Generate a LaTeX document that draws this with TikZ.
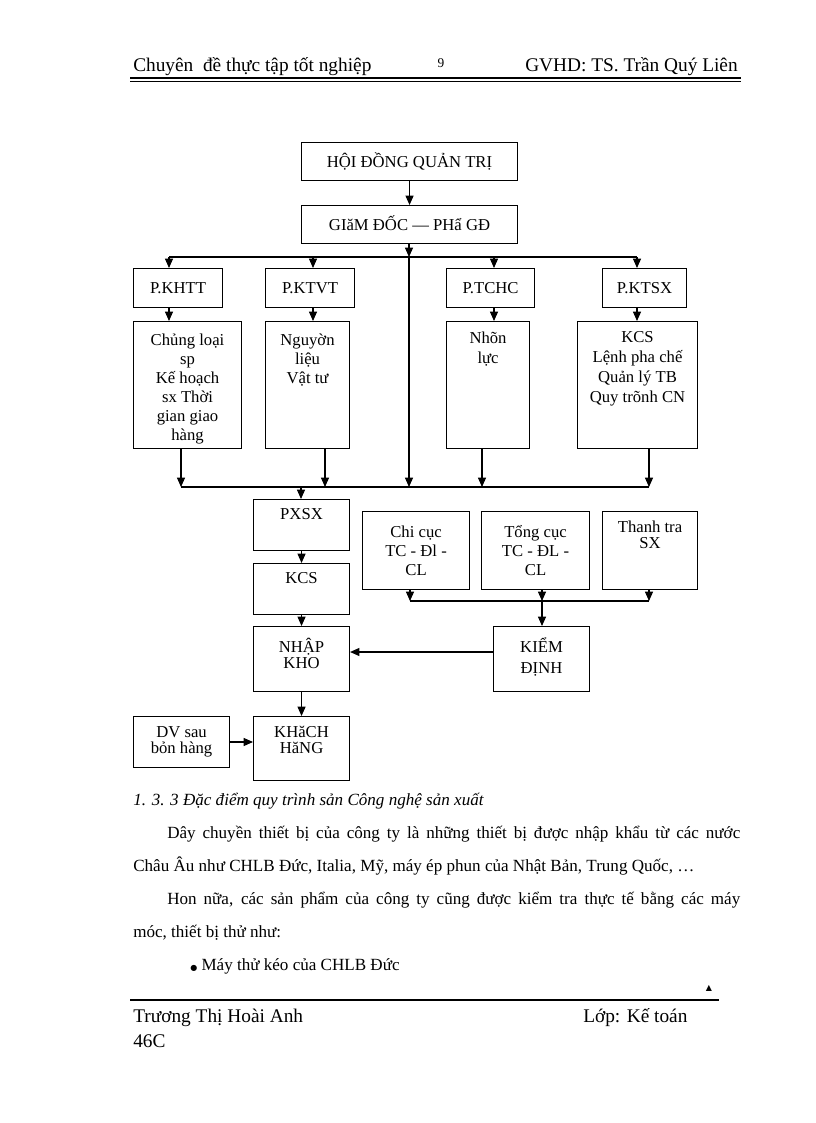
\documentclass[tikz,border=0pt]{standalone}
\usepackage{fontspec}
\setmainfont{Liberation Serif}
\newfontfamily\symfont{DejaVu Sans}
\usetikzlibrary{arrows.meta}
\newdimen\pxu \pxu=0.75pt
\newcommand\obox[8]{\node[bx, anchor=north west] (#1) at (#2,#3) {\parbox[c][\dimexpr #5\pxu-#3\pxu\relax][t]{\dimexpr #4\pxu-#2\pxu\relax}{\centering\baselineskip=#7\pxu\lineskiplimit=-20pt\rule{0pt}{#6\pxu}#8\par}};}
\begin{document}
\begin{tikzpicture}[x=0.75pt,y=-0.75pt,
  bx/.style={draw, line width=0.8pt, inner sep=0pt, font=\fontsize{12.5}{14}\selectfont},
  ln/.style={line width=0.8pt},
  arr/.style={line width=0.8pt, -{Triangle[length=7pt,width=6pt]}},
  txt/.style={inner sep=0pt, anchor=base west, font=\fontsize{12.8}{16}\selectfont},
  hdr/.style={inner sep=0pt, font=\fontsize{14.5}{17}\selectfont}]
\useasboundingbox[fill=white] (0,0) rectangle (816,1123);
% header
\node[hdr, anchor=base west] (h1) at (133,72) {Chuyên\ \ đề thực tập tốt nghiệp};
\node[hdr, anchor=base, font=\fontsize{10}{12}\selectfont] (h2) at (441,68) {9};
\node[hdr, anchor=base east] (h3) at (738,72) {GVHD: TS. Trần Quý Liên};
\draw[line width=1.3pt] (130,78) -- (741,78);
\draw[line width=0.6pt] (130,81) -- (741,81);
% boxes
\obox{hdqt}{301}{142}{517}{180}{25}{15}{HỘI ĐỒNG QUẢN TRỊ}
\obox{gd}{301}{205}{517}{243}{25}{15}{GIăM ĐỐC — PHẩ GĐ}
\obox{pkhtt}{133}{268}{222}{307}{25}{15}{P.KHTT}
\obox{pktvt}{265}{268}{354}{307}{25}{15}{P.KTVT}
\obox{ptchc}{446}{268}{534}{307}{25}{15}{P.TCHC}
\obox{pktsx}{602}{268}{686}{307}{25}{15}{P.KTSX}
\obox{c1}{133}{321}{241}{448}{24}{19}{Chủng loại\\sp\\Kế hoạch\\sx Thời\\gian giao\\hàng}
\obox{c2}{265}{321}{349}{448}{24}{19}{Nguyờn\\liệu\\Vật tư}
\obox{c3}{446}{321}{529}{448}{22}{20}{Nhõn\\lực}
\obox{c4}{577}{321}{697}{448}{21}{20}{KCS\\Lệnh pha chế\\Quản lý TB\\Quy trõnh CN}
\obox{pxsx}{253}{499}{349}{550}{20}{16}{PXSX}
\obox{kcs}{253}{563}{349}{614}{20}{16}{KCS}
\obox{nk}{253}{626}{349}{691}{26}{16}{NHẬP\\KHO}
\obox{kh}{253}{716}{349}{780}{21}{16}{KHăCH\\HăNG}
\obox{dv}{133}{716}{229}{767}{21}{16}{DV sau\\bỏn hàng}
\obox{cc}{362}{511}{469}{589}{26}{19}{Chi cục\\TC - Đl -\\CL}
\obox{tc}{481}{511}{589}{589}{26}{19}{Tổng cục\\TC - ĐL -\\CL}
\obox{tt}{602}{511}{697}{589}{21}{16}{Thanh tra\\SX}
\obox{kd}{493}{626}{589}{691}{26}{21}{KIỂM\\ĐỊNH}
% top bus
\coordinate (t1) at (169,257);
\coordinate (t2) at (313,257);
\coordinate (tC) at (409,257);
\coordinate (t3) at (494,257);
\coordinate (t4) at (637,257);
\draw[arr] (hdqt) -- (gd);
\draw[ln] (t1) -- (t4);
\draw[arr] (gd.south -| tC) -- (tC);
\draw[arr] (t1) -- (t1 |- pkhtt.north);
\draw[arr] (t2) -- (t2 |- pktvt.north);
\draw[arr] (t3) -- (t3 |- ptchc.north);
\draw[arr] (t4) -- (t4 |- pktsx.north);
\draw[arr] (pkhtt.south -| t1) -- (c1.north -| t1);
\draw[arr] (pktvt.south -| t2) -- (c2.north -| t2);
\draw[arr] (ptchc.south -| t3) -- (c3.north -| t3);
\draw[arr] (pktsx.south -| t4) -- (c4.north -| t4);
% bottom bus
\coordinate (b1) at (181,487);
\coordinate (b2) at (325,487);
\coordinate (bC) at (409,487);
\coordinate (b3) at (482,487);
\coordinate (b4) at (649,487);
\coordinate (bP) at (301,487);
\draw[ln] (b1) -- (b4);
\draw[arr] (c1.south -| b1) -- (b1);
\draw[arr] (c2.south -| b2) -- (b2);
\draw[arr] (tC) -- (bC);
\draw[arr] (c3.south -| b3) -- (b3);
\draw[arr] (c4.south -| b4) -- (b4);
\draw[arr] (bP) -- (pxsx.north -| bP);
\draw[arr] (pxsx) -- (kcs);
\draw[arr] (kcs) -- (nk);
\draw[arr] (nk) -- (kh);
% right group
\coordinate (r1) at (410,601);
\coordinate (r2) at (542,601);
\coordinate (r3) at (649,601);
\draw[ln] (r1) -- (r3);
\draw[arr] (cc.south -| r1) -- (r1);
\draw[arr] (tc.south -| r2) -- (r2);
\draw[arr] (tt.south -| r3) -- (r3);
\draw[arr] (r2) -- (kd.north -| r2);
\coordinate (ky) at (0,652);
\draw[arr] (kd.west |- ky) -- (nk.east |- ky);
\coordinate (dy) at (0,742);
\draw[arr] (dv.east |- dy) -- (kh.west |- dy);
% text
\node[txt, font=\fontsize{12.8}{15}\selectfont\itshape] (t0) at (133,805) {1. 3. 3 Đặc điểm quy trình sản Công nghệ sản xuất};
\node[txt] (p1) at (167,838) {\makebox[573\pxu][s]{Dây chuyền thiết bị của công ty là những thiết bị được nhập khẩu từ các nước}};
\node[txt] (p2) at (133,871) {Châu Âu như CHLB Đức, Italia, Mỹ, máy ép phun của Nhật Bản, Trung Quốc, …};
\node[txt] (p3) at (167,904) {\makebox[573\pxu][s]{Hon nữa, các sản phẩm của công ty cũng được kiểm tra thực tế bằng các máy}};
\node[txt] (p4) at (133,937) {móc, thiết bị thử như:};
\node[txt] (p5) at (190,970) {{\symfont\fontsize{6}{8}\selectfont●} Máy thử kéo của CHLB Đức};
% footer
\node[inner sep=0pt, font=\symfont\fontsize{6}{7}\selectfont] (tri) at (709,988) {▲};
\draw[line width=1.1pt] (130,1000) -- (719,1000);
\node[hdr, anchor=base west] (f1) at (133,1022) {Trương Thị Hoài Anh};
\node[hdr, anchor=base west] (f2) at (583,1022) {Lớp: Kế toán};
\node[hdr, anchor=base west] (f3) at (133,1047) {46C};
\end{tikzpicture}
\end{document}
